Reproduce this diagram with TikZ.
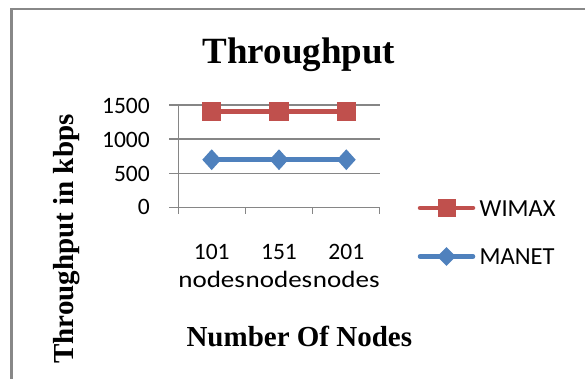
\documentclass[tikz,border=0pt]{standalone}
\usepackage{fontspec}
\setmainfont{Liberation Serif}
\newfontfamily\calfont{Carlito}
\usetikzlibrary{shapes.geometric}
\definecolor{wred}{HTML}{C0504D}
\definecolor{mblue}{HTML}{4F81BD}
\definecolor{gridgray}{HTML}{868686}
\definecolor{framegray}{HTML}{888888}
\newcommand{\widenodes}{\scalebox{1.15}[1]{nodes}}
\tikzset{
  gridline/.style={draw=gridgray,line width=1.4pt},
  tickmark/.style={draw=gridgray,line width=1.4pt},
  ticklabel/.style={font=\calfont\fontsize{23.5}{28.3}\selectfont,inner sep=0pt},
  catlabel/.style={font=\calfont\fontsize{23.5}{28.3}\selectfont,inner sep=0pt,align=center},
  legtext/.style={font=\calfont\fontsize{24.5}{28}\selectfont,inner sep=0pt,anchor=west},
  bigtitle/.style={font=\bfseries\fontsize{37}{40}\selectfont,inner sep=0pt,anchor=base},
  axtitle/.style={font=\bfseries\fontsize{29}{32}\selectfont,inner sep=0pt,anchor=base},
  wline/.style={draw=wred,line width=5.5pt},
  mline/.style={draw=mblue,line width=5.5pt},
  wmark/.style={rectangle,fill=wred,minimum size=19.5pt,inner sep=0pt},
  mmark/.style={diamond,fill=mblue,minimum width=19pt,minimum height=21pt,inner sep=0pt},
  legw/.style={draw=wred,line width=4.5pt,line cap=round},
  legm/.style={draw=mblue,line width=4.5pt,line cap=round},
}
\begin{document}
\begin{tikzpicture}[x=1pt,y=-1pt]
\useasboundingbox (0,0) rectangle (585,379);
\clip (0,0) rectangle (585,379);
% outer frame
\draw[framegray,line width=2.5pt] (11.7,400) -- (11.7,9) -- (620,9);
% title
\node[bigtitle] (title) at (299,63.3) {Throughput};
% grid lines
\coordinate (g0l) at (169.3,207.7);   \coordinate (g0r) at (380,207.7);
\coordinate (g1l) at (169.3,173.4);   \coordinate (g1r) at (380,173.4);
\coordinate (g2l) at (169.3,139.2);   \coordinate (g2r) at (380,139.2);
\coordinate (g3l) at (169.3,105);     \coordinate (g3r) at (380,105);
\draw[gridline] (g1l) -- (g1r);
\draw[gridline] (g2l) -- (g2r);
\draw[gridline] (g3l) -- (g3r);
\draw[gridline] (g0l) -- (g0r);
% y axis
\coordinate (yb) at (178.3,213.5); \coordinate (yt) at (178.3,105);
\draw[tickmark] (yb) -- (yt);
% x ticks
\coordinate (t1a) at (245.6,207.7); \coordinate (t1b) at (245.6,213.5);
\coordinate (t2a) at (312.7,207.7); \coordinate (t2b) at (312.7,213.5);
\coordinate (t3a) at (379.3,207.7); \coordinate (t3b) at (379.3,213.5);
\draw[tickmark] (t1a) -- (t1b);
\draw[tickmark] (t2a) -- (t2b);
\draw[tickmark] (t3a) -- (t3b);
% y tick labels
\node[ticklabel,anchor=east] (l1500) at (150,105.5) {1500};
\node[ticklabel,anchor=east] (l1000) at (150,139.7) {1000};
\node[ticklabel,anchor=east] (l500) at (150,173.9) {500};
\node[ticklabel,anchor=east] (l0) at (150,207) {0};
% category labels
\node[catlabel] (c1) at (211.7,265.8) {101\\\widenodes};
\node[catlabel] (c2) at (279,265.8) {151\\\widenodes};
\node[catlabel] (c3) at (346.3,265.8) {201\\\widenodes};
% data points
\coordinate (w1) at (211.7,111.7); \coordinate (w2) at (279,111.7); \coordinate (w3) at (346.3,111.7);
\coordinate (m1) at (211.7,159.7); \coordinate (m2) at (279,159.7); \coordinate (m3) at (346.3,159.7);
\draw[wline] (w1) -- (w2) -- (w3);
\draw[mline] (m1) -- (m2) -- (m3);
\node[wmark] (wm1) at (w1) {};
\node[wmark] (wm2) at (w2) {};
\node[wmark] (wm3) at (w3) {};
\node[mmark] (mm1) at (m1) {};
\node[mmark] (mm2) at (m2) {};
\node[mmark] (mm3) at (m3) {};
% axis titles
\node[axtitle] (xtitle) at (299.3,346.7) {Number Of Nodes};
\node[axtitle,rotate=90] (ytitle) at (73,239) {Throughput in kbps};
% legend
\coordinate (lw1) at (420,208); \coordinate (lw2) at (473,208);
\coordinate (lm1) at (420,256.5); \coordinate (lm2) at (473,256.5);
\draw[legw] (lw1) -- (lw2);
\draw[legm] (lm1) -- (lm2);
\node[wmark,minimum size=18pt] (legwm) at (446.5,208) {};
\node[mmark,minimum width=19pt,minimum height=19pt] (legmm) at (446.5,256.5) {};
\node[legtext] (legwt) at (479.5,208.5) {WIMAX};
\node[legtext] (legmt) at (479.5,256.8) {MANET};
\end{tikzpicture}
\end{document}
